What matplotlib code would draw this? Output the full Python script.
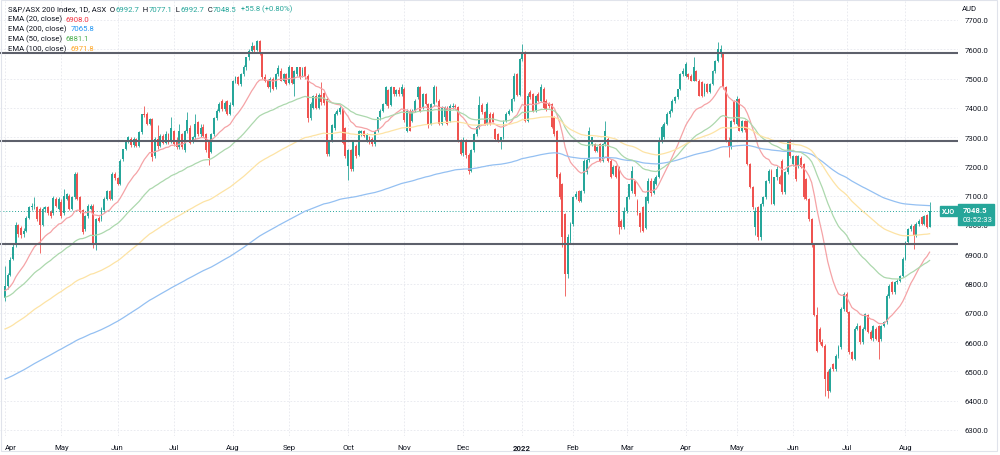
import numpy as np
import pandas as pd
import matplotlib
matplotlib.use('Agg')
import matplotlib.pyplot as plt
from matplotlib.patches import Rectangle

# 月の開始バーと軸ラベル
month_labels = ['Apr', 'May', 'Jun', 'Jul', 'Aug', 'Sep', 'Oct', 'Nov', 'Dec',
                '2022', 'Feb', 'Mar', 'Apr', 'May', 'Jun', 'Jul', 'Aug']
month_starts = [0, 21, 42, 63, 85, 106, 128, 149, 171, 193, 212, 232, 254, 273, 294, 314, 336]

# 日足 OHLC (1 行 = 1 か月)
opens = [
    6750, 6790, 6830, 6885, 6930, 7000, 6990, 6970, 6980, 7025, 7060, 7066, 7060, 7055, 7000, 7055, 7060, 7045, 7040, 7090, 7055,
    7080, 7040, 7090, 7100, 7055, 7095, 7175, 7095, 7050, 6985, 7030, 7055, 7066, 6930, 7025, 7020, 7050, 7090, 7115, 7090, 7175,
    7160, 7140, 7225, 7258, 7288, 7295, 7272, 7293, 7271, 7316, 7380, 7378, 7345, 7362, 7235, 7295, 7270, 7305, 7280, 7310, 7285,
    7320, 7290, 7265, 7310, 7255, 7320, 7330, 7285, 7300, 7350, 7310, 7335, 7310, 7285, 7250, 7310, 7365, 7390, 7424, 7395, 7424, 7380,
    7410, 7492, 7504, 7481, 7515, 7538, 7572, 7595, 7612, 7598, 7628, 7584, 7504, 7493, 7470, 7500, 7470, 7515, 7527, 7493, 7515,
    7485, 7538, 7480, 7515, 7538, 7510, 7538, 7510, 7367, 7400, 7440, 7400, 7445, 7450, 7430, 7242, 7290, 7330, 7379, 7385, 7395, 7330,
    7200, 7255, 7190, 7270, 7240, 7315, 7322, 7290, 7300, 7295, 7277, 7322, 7368, 7390, 7413, 7460, 7410, 7470, 7447, 7462, 7447,
    7465, 7322, 7390, 7356, 7390, 7436, 7470, 7400, 7447, 7413, 7345, 7413, 7470, 7425, 7345, 7368, 7400, 7356, 7402, 7408, 7402, 7288,
    7245, 7290, 7240, 7185, 7255, 7310, 7333, 7410, 7385, 7345, 7380, 7380, 7328, 7311, 7290, 7299, 7356, 7379, 7390, 7430, 7516, 7445,
    7567, 7590, 7356, 7453, 7447, 7390, 7447, 7424, 7464, 7424, 7415, 7413, 7368, 7322, 7175, 7140, 7038, 6833, 6947,
    7004, 7094, 7117, 7083, 7117, 7180, 7222, 7276, 7276, 7254, 7276, 7220, 7276, 7294, 7220, 7174, 7203, 7197, 7015, 6992,
    7049, 7094, 7117, 7150, 7083, 7040, 7060, 6990, 7083, 7151, 7110, 7140, 7165, 7290, 7300, 7345, 7379, 7390, 7424, 7436, 7464, 7516,
    7510, 7516, 7510, 7493, 7527, 7493, 7487, 7447, 7481, 7453, 7481, 7527, 7561, 7584, 7590, 7470, 7288, 7265, 7424,
    7345, 7430, 7322, 7356, 7356, 7208, 7129, 6992, 7060, 6958, 7072, 7094, 7151, 7186, 7072, 7163, 7163, 7220, 7112, 7180, 7288,
    7208, 7237, 7200, 7230, 7208, 7157, 7089, 7021, 6930, 6691, 6645, 6600, 6588, 6497, 6433, 6526, 6508, 6554, 6583, 6713,
    6765, 6702, 6565, 6543, 6645, 6656, 6600, 6645, 6691, 6634, 6615, 6645, 6656, 6611, 6656, 6668, 6759, 6804, 6770, 6804, 6810, 6827,
    6884, 6941, 6986, 6998, 6964, 7004, 7027, 7004, 7035, 6992.7,
]
highs = [
    6860, 6835, 6890, 6935, 7010, 7005, 6995, 6990, 7030, 7065, 7075, 7095, 7065, 7060, 7060, 7065, 7065, 7050, 7100, 7095, 7095,
    7090, 7123, 7110, 7105, 7100, 7180, 7180, 7100, 7055, 7035, 7070, 7070, 7070, 7025, 7030, 7060, 7095, 7120, 7120, 7180, 7180,
    7165, 7225, 7260, 7290, 7305, 7300, 7300, 7298, 7320, 7380, 7405, 7385, 7365, 7365, 7300, 7340, 7310, 7310, 7320, 7315, 7368,
    7325, 7300, 7345, 7315, 7325, 7385, 7340, 7305, 7380, 7356, 7345, 7345, 7315, 7290, 7315, 7370, 7395, 7420, 7430, 7425, 7428, 7420,
    7495, 7510, 7510, 7520, 7545, 7575, 7600, 7625, 7615, 7632, 7630, 7590, 7515, 7500, 7505, 7505, 7520, 7545, 7535, 7520, 7520,
    7545, 7540, 7530, 7540, 7540, 7540, 7542, 7515, 7420, 7445, 7450, 7450, 7487, 7455, 7435, 7290, 7345, 7385, 7395, 7405, 7400, 7335,
    7260, 7260, 7290, 7275, 7325, 7325, 7325, 7315, 7305, 7300, 7325, 7370, 7395, 7415, 7475, 7465, 7475, 7472, 7465, 7470, 7480,
    7470, 7395, 7395, 7395, 7430, 7475, 7475, 7450, 7450, 7418, 7415, 7478, 7475, 7430, 7405, 7405, 7405, 7412, 7415, 7412, 7405, 7295,
    7300, 7295, 7245, 7260, 7315, 7340, 7441, 7415, 7390, 7420, 7385, 7385, 7330, 7315, 7300, 7360, 7385, 7395, 7435, 7520, 7520, 7570,
    7618, 7595, 7450, 7460, 7450, 7445, 7455, 7481, 7470, 7430, 7420, 7418, 7372, 7325, 7180, 7145, 7040, 6970, 7010,
    7100, 7115, 7120, 7120, 7225, 7230, 7333, 7300, 7280, 7270, 7280, 7280, 7356, 7300, 7225, 7205, 7206, 7200, 7020, 7060,
    7100, 7140, 7200, 7155, 7090, 7045, 7065, 7100, 7160, 7160, 7160, 7170, 7300, 7340, 7350, 7385, 7395, 7430, 7440, 7465, 7520, 7535,
    7555, 7520, 7515, 7573, 7530, 7498, 7490, 7485, 7485, 7485, 7530, 7565, 7624, 7615, 7592, 7475, 7300, 7360, 7428,
    7440, 7432, 7360, 7360, 7358, 7212, 7132, 7060, 7065, 7075, 7100, 7155, 7190, 7190, 7165, 7200, 7170, 7225, 7185, 7290, 7295,
    7240, 7240, 7240, 7235, 7210, 7160, 7092, 7025, 6935, 6720, 6650, 6610, 6595, 6505, 6515, 6530, 6560, 6590, 6720, 6770,
    6770, 6705, 6570, 6650, 6665, 6660, 6650, 6700, 6695, 6640, 6660, 6650, 6660, 6660, 6672, 6765, 6800, 6810, 6810, 6815, 6830, 6890,
    6945, 6990, 7005, 7002, 7010, 7020, 7030, 7035, 7038, 7077.1,
]
lows = [
    6740, 6780, 6825, 6880, 6925, 6960, 6955, 6960, 6975, 7020, 7050, 7055, 7015, 6905, 6995, 7045, 7035, 7025, 7035, 7060, 7050,
    7025, 7035, 7085, 7050, 7050, 7090, 7085, 7040, 6970, 6980, 7025, 7050, 6920, 6915, 7010, 7015, 7045, 7085, 7085, 7085, 7155,
    7135, 7135, 7220, 7255, 7280, 7268, 7268, 7268, 7265, 7310, 7370, 7340, 7340, 7220, 7230, 7260, 7265, 7275, 7275, 7275, 7280,
    7270, 7260, 7260, 7260, 7250, 7315, 7275, 7280, 7295, 7305, 7300, 7300, 7250, 7205, 7245, 7305, 7360, 7385, 7390, 7390, 7375, 7375,
    7405, 7485, 7478, 7475, 7510, 7530, 7565, 7590, 7590, 7595, 7580, 7500, 7488, 7468, 7453, 7460, 7465, 7510, 7490, 7488, 7478,
    7480, 7480, 7440, 7510, 7500, 7505, 7500, 7350, 7360, 7395, 7395, 7395, 7410, 7410, 7235, 7235, 7285, 7325, 7375, 7378, 7275, 7230,
    7155, 7185, 7185, 7230, 7235, 7305, 7300, 7285, 7275, 7270, 7270, 7318, 7360, 7385, 7410, 7400, 7405, 7440, 7440, 7440, 7440,
    7350, 7318, 7320, 7350, 7385, 7430, 7385, 7395, 7410, 7330, 7340, 7405, 7420, 7340, 7340, 7360, 7340, 7350, 7395, 7395, 7285, 7240,
    7235, 7230, 7175, 7180, 7250, 7305, 7328, 7380, 7340, 7340, 7340, 7350, 7290, 7285, 7260, 7295, 7350, 7375, 7385, 7425, 7441, 7440,
    7560, 7350, 7350, 7430, 7385, 7385, 7420, 7420, 7395, 7390, 7400, 7330, 7305, 7160, 7090, 6924, 6759, 6820, 6940,
    6995, 7090, 7080, 7078, 7110, 7175, 7215, 7270, 7250, 7250, 7215, 7215, 7270, 7215, 7160, 7170, 7160, 6969, 6985, 6985,
    7040, 7090, 7110, 7100, 7035, 6975, 6975, 6985, 7075, 7100, 7105, 7135, 7160, 7280, 7295, 7340, 7370, 7385, 7418, 7430, 7460, 7510,
    7505, 7500, 7490, 7490, 7490, 7440, 7436, 7440, 7450, 7450, 7478, 7520, 7555, 7575, 7465, 7285, 7231, 7260, 7345,
    7340, 7320, 7318, 7318, 7205, 7125, 7055, 6965, 6950, 6950, 7065, 7090, 7145, 7070, 7068, 7155, 7140, 7105, 7105, 7175, 7230,
    7200, 7150, 7195, 7195, 7090, 7085, 7015, 6925, 6690, 6565, 6595, 6585, 6415, 6410, 6428, 6500, 6500, 6545, 6578, 6705,
    6700, 6560, 6540, 6538, 6640, 6595, 6595, 6640, 6630, 6608, 6605, 6608, 6543, 6605, 6650, 6662, 6752, 6765, 6765, 6800, 6805, 6822,
    6880, 6935, 6980, 6918, 6958, 6998, 7000, 7000, 6988, 6992.7,
]
closes = [
    6790, 6830, 6880, 6925, 7000, 6970, 6965, 6980, 7025, 7060, 7066, 7070, 7020, 7000, 7055, 7060, 7040, 7030, 7092, 7065, 7090,
    7030, 7100, 7106, 7055, 7095, 7175, 7090, 7045, 6975, 7030, 7065, 7066, 6930, 7020, 7015, 7055, 7090, 7115, 7090, 7175, 7160,
    7140, 7220, 7258, 7288, 7299, 7272, 7293, 7271, 7316, 7378, 7375, 7345, 7362, 7232, 7295, 7270, 7305, 7280, 7310, 7280, 7330,
    7275, 7265, 7320, 7265, 7320, 7360, 7280, 7300, 7345, 7310, 7330, 7305, 7255, 7230, 7310, 7365, 7390, 7413, 7395, 7418, 7380, 7410,
    7492, 7504, 7481, 7515, 7538, 7572, 7595, 7612, 7598, 7628, 7584, 7504, 7493, 7470, 7500, 7464, 7515, 7535, 7493, 7515, 7481,
    7538, 7485, 7525, 7538, 7504, 7530, 7504, 7367, 7413, 7440, 7400, 7445, 7420, 7415, 7242, 7285, 7340, 7379, 7390, 7400, 7280, 7235,
    7255, 7190, 7285, 7235, 7320, 7320, 7305, 7310, 7280, 7275, 7322, 7368, 7390, 7413, 7470, 7405, 7470, 7447, 7462, 7447, 7470,
    7360, 7390, 7322, 7390, 7425, 7470, 7390, 7447, 7413, 7340, 7413, 7470, 7425, 7345, 7400, 7400, 7345, 7408, 7408, 7402, 7288, 7242,
    7290, 7240, 7185, 7255, 7310, 7333, 7410, 7385, 7345, 7413, 7345, 7352, 7294, 7288, 7299, 7356, 7379, 7390, 7430, 7510, 7445, 7567,
    7590, 7356, 7441, 7436, 7390, 7441, 7424, 7470, 7400, 7396, 7405, 7333, 7311, 7163, 7094, 6958, 6833, 6958, 7004,
    7094, 7106, 7083, 7117, 7220, 7222, 7322, 7299, 7254, 7265, 7220, 7276, 7322, 7220, 7163, 7197, 7163, 6992, 6992, 7049,
    7094, 7140, 7185, 7106, 7040, 6992, 6980, 7094, 7151, 7110, 7151, 7165, 7290, 7333, 7345, 7379, 7390, 7424, 7436, 7464, 7516, 7527,
    7550, 7504, 7493, 7538, 7493, 7441, 7440, 7481, 7453, 7481, 7527, 7561, 7601, 7601, 7470, 7288, 7265, 7356, 7350,
    7430, 7322, 7356, 7325, 7208, 7129, 7060, 7049, 6958, 7072, 7094, 7151, 7186, 7072, 7163, 7192, 7140, 7112, 7180, 7288, 7237,
    7237, 7157, 7237, 7197, 7094, 7089, 7021, 6930, 6691, 6571, 6600, 6588, 6474, 6433, 6508, 6508, 6554, 6583, 6713, 6765,
    6702, 6565, 6543, 6645, 6656, 6600, 6645, 6696, 6634, 6611, 6656, 6611, 6600, 6656, 6668, 6759, 6793, 6770, 6804, 6810, 6827, 6884,
    6941, 6986, 6998, 6964, 7004, 7015, 7004, 7032, 6993, 7048.5,
]

# EMA 設定 (凡例順)、初日の値はチャートから読み取り
ema_names = ['EMA (20, close)', 'EMA (200, close)', 'EMA (50, close)', 'EMA (100, close)']
ema_periods = [20, 200, 50, 100]
ema_first = [6776, 6474, 6753, 6645]
ema_values = ['6908.0', '7065.8', '6881.1', '6971.8']
ema_line_colors = ['#f5a3a6', '#94c0f2', '#acd8ad', '#fde3a4']
ema_text_colors = ['#f23645', '#2196f3', '#4caf50', '#ffa726']

# 水平線と現在値
levels = [7587, 7288, 6935]
last_price = 7048.5
header = [('S&P/ASX 200 Index, 1D, ASX', 'd'), ('  O', 'd'), ('6992.7', 't'), ('  H', 'd'),
          ('7077.1', 't'), ('  L', 'd'), ('6992.7', 't'), ('  C', 'd'), ('7048.5', 't'),
          ('  +55.8 (+0.80%)', 't')]

UP = '#26a69a'
DOWN = '#ef5350'
DARK = '#131722'
FS = 5.6

plt.rcParams['font.family'] = ['Roboto', 'DejaVu Sans']

o = np.array(opens, dtype=float)
h = np.array(highs, dtype=float)
l = np.array(lows, dtype=float)
c = np.array(closes, dtype=float)
n = len(c)
x = np.arange(n)

W, H = 1000, 456
fig = plt.figure(figsize=(W / 100, H / 100), dpi=100)
ax = fig.add_axes([0, 19 / H, 958 / W, 437 / H])
ax.set_xlim(-1.87, 355.6)
ax.set_ylim(6279.4, 7771.7)
for s in ax.spines.values():
    s.set_visible(False)

# グリッド
for p in range(6300, 7701, 100):
    ax.axhline(p, color='#e6e8ee', lw=0.6, ls=(0, (2, 2)), zorder=0)
for m in month_starts:
    ax.axvline(m, color='#e6e8ee', lw=0.6, ls=(0, (2, 2)), zorder=0)

# ローソク足
up = c >= o
col = np.where(up, UP, DOWN)
ax.vlines(x, l, h, colors=col, lw=0.6, zorder=2)
body = np.maximum(np.abs(c - o), 1.5)
ax.bar(x, body, bottom=np.minimum(o, c), width=0.72, color=col, lw=0, zorder=3)

# EMA
for per, first, lc in zip(ema_periods, ema_first, ema_line_colors):
    s = pd.Series(np.r_[first, c[1:]]).ewm(span=per, adjust=False).mean()
    ax.plot(x, s.values, color=lc, lw=0.9, zorder=4)

# 水平線
for lv in levels:
    ax.axhline(lv, color='#5d606b', lw=1.5, zorder=5)
ax.axhline(last_price, color=UP, lw=0.7, ls=(0, (1, 2)), zorder=1)

# 軸ラベル
ax.yaxis.tick_right()
ticks = list(range(6300, 7701, 100))
ax.set_yticks(ticks)
ax.set_yticklabels([f'{t:.1f}' for t in ticks])
ax.tick_params(axis='y', length=0, pad=5, labelsize=FS, labelcolor=DARK)
ax.set_xticks(month_starts)
ax.set_xticklabels(month_labels)
ax.tick_params(axis='x', length=0, pad=5.5, labelsize=FS, labelcolor=DARK)
ax.get_xticklabels()[9].set_fontweight('bold')
ax.get_xticklabels()[0].set_ha('left')

fig.text(962 / W, 1 - 9 / H, 'AUD', fontsize=FS, color=DARK, va='center')

# 凡例テキストを左から順に並べる
renderer = fig.canvas.get_renderer()


def put_row(parts, y):
    xp = 8
    for txt, color in parts:
        t = fig.text(xp / W, 1 - y / H, txt, fontsize=FS, color=color, va='center')
        xp += t.get_window_extent(renderer).width


put_row([(s, DARK if k == 'd' else UP) for s, k in header], 9.5)
for k, (name, val, tc) in enumerate(zip(ema_names, ema_values, ema_text_colors)):
    put_row([(name + '  ', DARK), (val, tc)], 19.5 + k * 9.9)

# 現在値ラベル
fig.patches.append(Rectangle((940 / W, 1 - 217 / H), 17 / W, 10 / H, transform=fig.transFigure,
                             color=UP, zorder=10))
fig.text(948.5 / W, 1 - 212 / H, 'XJO', fontsize=5, color='white', ha='center', va='center',
         fontweight='bold', zorder=11)
fig.patches.append(Rectangle((958 / W, 1 - 226 / H), 36 / W, 21 / H, transform=fig.transFigure,
                             color=UP, zorder=10))
fig.text(963 / W, 1 - 210.5 / H, '7048.5', fontsize=FS, color='white', va='center',
         fontweight='bold', zorder=11)
fig.text(963 / W, 1 - 220.5 / H, '03:52:33', fontsize=FS, color='white', va='center', zorder=11)

# 外枠
fig.patches.append(Rectangle((0.5 / W, 4 / H), 996 / W, 451.5 / H, transform=fig.transFigure,
                             fill=False, ec='#e0e3eb', lw=0.8))

plt.savefig('out.png', dpi=100)
